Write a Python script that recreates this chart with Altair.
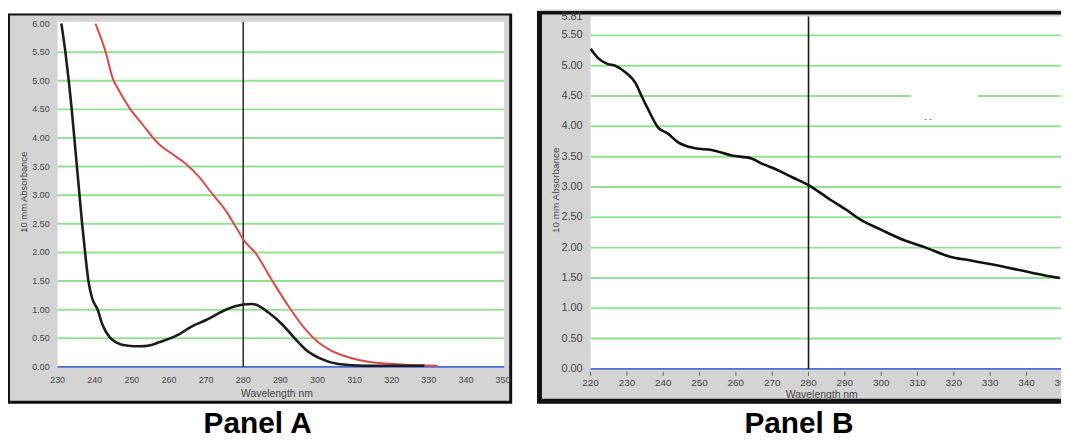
import altair as alt
import pandas as pd

# ---------------- data ----------------
A_BLACK_WL = [231.0, 232.1, 233.0, 233.8, 234.5, 235.2, 235.9, 236.6, 237.4, 238.3, 239.3, 240.8,
              242.0, 244.0, 246.0, 249.0, 252.0, 255.0, 257.3, 262.7, 266.2, 270.0, 275.3, 280.1,
              282.3, 283.3, 286.8, 290.4, 294.0, 296.7, 301.0, 305.6, 312.7, 328.8]
A_BLACK_ABS = [6.00, 5.50, 5.00, 4.50, 4.00, 3.50, 3.00, 2.50, 2.00, 1.50, 1.20, 1.00,
               0.75, 0.52, 0.42, 0.37, 0.36, 0.38, 0.43, 0.57, 0.71, 0.82, 1.00, 1.09,
               1.10, 1.09, 0.95, 0.75, 0.49, 0.31, 0.14, 0.05, 0.02, 0.02]

A_RED_WL = [240.2, 242.9, 244.8, 246.6, 249.3, 252.8, 257.3, 260.9, 264.5, 268.1, 271.6, 275.2,
            278.8, 280.1, 283.3, 287.7, 292.2, 296.7, 300.2, 303.8, 308.3, 314.5, 323.5, 332.4]
A_RED_ABS = [6.00, 5.51, 5.05, 4.82, 4.53, 4.24, 3.89, 3.72, 3.55, 3.32, 3.03, 2.74,
             2.36, 2.22, 1.99, 1.52, 1.06, 0.66, 0.43, 0.28, 0.17, 0.08, 0.04, 0.02]

B_WL = [220.0, 222.0, 224.6, 226.8, 229.6, 232.3, 234.2, 235.6, 238.6, 241.3, 244.0, 248.7,
        253.3, 258.8, 264.3, 267.0, 271.4, 275.5, 280.0, 286.0, 290.5, 294.3, 299.8, 306.0,
        312.3, 318.9, 324.4, 330.7, 338.0, 345.1, 349.2]
B_ABS = [5.28, 5.13, 5.03, 5.00, 4.89, 4.72, 4.48, 4.31, 3.98, 3.88, 3.74, 3.64,
         3.61, 3.52, 3.47, 3.39, 3.28, 3.16, 3.03, 2.79, 2.62, 2.46, 2.30, 2.13,
         2.00, 1.85, 1.79, 1.72, 1.63, 1.54, 1.50]

A_X_TICKS = [230, 240, 250, 260, 270, 280, 290, 300, 310, 320, 330, 340, 350]
A_Y_TICKS = [0.0, 0.5, 1.0, 1.5, 2.0, 2.5, 3.0, 3.5, 4.0, 4.5, 5.0, 5.5, 6.0]
B_X_TICKS = [220, 230, 240, 250, 260, 270, 280, 290, 300, 310, 320, 330, 340, 350]
B_Y_TICKS = [0.0, 0.5, 1.0, 1.5, 2.0, 2.5, 3.0, 3.5, 4.0, 4.5, 5.0, 5.5, 5.81]
GRID_VALUES = [0.5, 1.0, 1.5, 2.0, 2.5, 3.0, 3.5, 4.0, 4.5, 5.0, 5.5]
MARKER_WL = 280
A_X_DOMAIN = [230, 350]
A_Y_DOMAIN = [0, 6]
B_X_DOMAIN = [220, 350]
B_Y_DOMAIN = [0, 5.81]
A_PLOT_TOP = 6.03
A_PLOT_RIGHT = 350.3
B_PLOT_RIGHT = 352
PANEL_LABELS = ["Panel A", "Panel B"]
X_TITLE = "Wavelength nm"
Y_TITLE = "10 mm Absorbance"

# ---------------- styles ----------------
FONT = "Liberation Sans"
GRAY = "#d4d4d4"
GREEN = "#93e293"
BLUE = "#4a6cd4"
LABEL_COLOR = "#444444"

one = pd.DataFrame({"k": [0]})

sxA = alt.Scale(domain=A_X_DOMAIN, range=[50, 498.8], nice=False, zero=False)
syA = alt.Scale(domain=A_Y_DOMAIN, range=[360, 14], nice=False, zero=False)
sxB = alt.Scale(domain=B_X_DOMAIN, range=[587, 1062.8], nice=False, zero=False)
syB = alt.Scale(domain=B_Y_DOMAIN, range=[362, 7], nice=False, zero=False)


def X(sc, datum=None, field=None):
    if field is not None:
        return alt.X(field, type="quantitative", scale=sc, axis=None)
    return alt.X(datum=datum, type="quantitative", scale=sc, axis=None)


def Y(sc, datum=None, field=None):
    if field is not None:
        return alt.Y(field, type="quantitative", scale=sc, axis=None)
    return alt.Y(datum=datum, type="quantitative", scale=sc, axis=None)


def tick_df(values, fmt):
    return pd.DataFrame({"v": values, "lab": [format(v, fmt) for v in values]})


# ---------------- backgrounds (frames) ----------------
pageBg = alt.Chart(one).mark_rect(color="white").encode(
    x=alt.value(-2), x2=alt.value(1065), y=alt.value(-2), y2=alt.value(436))
frameA = alt.Chart(one).mark_rect(color="#111111").encode(
    x=alt.value(0), x2=alt.value(508), y=alt.value(4), y2=alt.value(397))
grayA = alt.Chart(one).mark_rect(color=GRAY).encode(
    x=alt.value(2), x2=alt.value(505), y=alt.value(6), y2=alt.value(394))
lineTopB = alt.Chart(one).mark_rule(color="#bbbbbb", strokeWidth=1).encode(
    x=alt.value(533), x2=alt.value(1075), y=alt.value(0.5))
frameB = alt.Chart(one).mark_rect(color="#111111").encode(
    x=alt.value(533), x2=alt.value(1075), y=alt.value(1.5), y2=alt.value(397))
grayB = alt.Chart(one).mark_rect(color=GRAY).encode(
    x=alt.value(538), x2=alt.value(1075), y=alt.value(5), y2=alt.value(392))

grid_df = pd.DataFrame({"g": GRID_VALUES})

# ---------------- panel A ----------------
dfA_black = pd.DataFrame({"wl": A_BLACK_WL, "abs": A_BLACK_ABS})
dfA_red = pd.DataFrame({"wl": A_RED_WL, "abs": A_RED_ABS})

whiteA = alt.Chart(one).mark_rect(color="white").encode(
    x=X(sxA, A_X_DOMAIN[0]), x2=alt.X2(datum=A_PLOT_RIGHT),
    y=Y(syA, 0), y2=alt.Y2(datum=A_PLOT_TOP))
gridA = alt.Chart(grid_df).mark_rule(color=GREEN, strokeWidth=2).encode(
    y=Y(syA, field="g"), x=X(sxA, A_X_DOMAIN[0]), x2=alt.X2(datum=A_PLOT_RIGHT))
zeroA = alt.Chart(one).mark_rule(color=BLUE, strokeWidth=1.6).encode(
    y=Y(syA, 0), x=X(sxA, A_X_DOMAIN[0]), x2=alt.X2(datum=A_PLOT_RIGHT))
vlineA = alt.Chart(one).mark_rule(color="#2a2a2a", strokeWidth=1.5).encode(
    x=X(sxA, MARKER_WL), y=Y(syA, 0), y2=alt.Y2(datum=A_PLOT_TOP))
redA = alt.Chart(dfA_red).mark_line(color="#e04848", strokeWidth=2, interpolate="monotone").encode(
    x=X(sxA, field="wl"), y=Y(syA, field="abs"), order="wl:Q")
blackA = alt.Chart(dfA_black).mark_line(color="#1c1c1c", strokeWidth=2.6, interpolate="monotone").encode(
    x=X(sxA, field="wl"), y=Y(syA, field="abs"), order="wl:Q")
ylabA = alt.Chart(tick_df(A_Y_TICKS, ".2f")).mark_text(
    font=FONT, fontSize=9, color=LABEL_COLOR, align="right", baseline="middle").encode(
    y=Y(syA, field="v"), x=alt.value(42), text="lab:N")
xlabA = alt.Chart(tick_df(A_X_TICKS, "d")).mark_text(
    font=FONT, fontSize=9, color=LABEL_COLOR, align="center", baseline="middle").encode(
    x=X(sxA, field="v"), y=alt.value(373), text="lab:N")
panelA = alt.layer(whiteA, gridA, zeroA, vlineA, redA, blackA, ylabA, xlabA)

# ---------------- panel B ----------------
dfB = pd.DataFrame({"wl": B_WL, "abs": B_ABS})
whiteB = alt.Chart(one).mark_rect(color="white").encode(
    x=X(sxB, B_X_DOMAIN[0]), x2=alt.X2(datum=B_PLOT_RIGHT),
    y=Y(syB, 0), y2=alt.Y2(datum=B_Y_DOMAIN[1]))
gridB = alt.Chart(grid_df).mark_rule(color=GREEN, strokeWidth=2).encode(
    y=Y(syB, field="g"), x=X(sxB, B_X_DOMAIN[0]), x2=alt.X2(datum=B_PLOT_RIGHT))
zeroB = alt.Chart(one).mark_rule(color=BLUE, strokeWidth=1.6).encode(
    y=Y(syB, 0), x=X(sxB, B_X_DOMAIN[0]), x2=alt.X2(datum=B_PLOT_RIGHT))
vlineB = alt.Chart(one).mark_rule(color="#1a1a1a", strokeWidth=1.6).encode(
    x=X(sxB, MARKER_WL), y=Y(syB, 0), y2=alt.Y2(datum=B_Y_DOMAIN[1]))
lineB = alt.Chart(dfB).mark_line(color="#111111", strokeWidth=2.6, interpolate="monotone").encode(
    x=X(sxB, field="wl"), y=Y(syB, field="abs"), order="wl:Q")
ylabB = alt.Chart(tick_df(B_Y_TICKS, ".2f")).mark_text(
    font=FONT, fontSize=11, color=LABEL_COLOR, align="right", baseline="middle").encode(
    y=Y(syB, field="v"), x=alt.value(579), text="lab:N")
xtickB = alt.Chart(tick_df(B_X_TICKS, "d")).mark_rule(color="#666666", strokeWidth=1).encode(
    x=X(sxB, field="v"), y=alt.value(365), y2=alt.value(369))
xlabB = alt.Chart(tick_df(B_X_TICKS, "d")).mark_text(
    font=FONT, fontSize=10, color=LABEL_COLOR, align="center", baseline="middle").encode(
    x=X(sxB, field="v"), y=alt.value(376), text="lab:N")
panelB = alt.layer(whiteB, gridB, zeroB, vlineB, lineB, ylabB, xtickB, xlabB)

# axis titles
ytitleA = alt.Chart(one).mark_text(text=Y_TITLE, font=FONT, fontSize=9.5, color=LABEL_COLOR,
                                   angle=270, align="center", baseline="middle").encode(
    x=alt.value(16), y=alt.value(184))
xtitleA = alt.Chart(one).mark_text(text=X_TITLE, font=FONT, fontSize=10.5, color=LABEL_COLOR,
                                   align="center", baseline="middle").encode(
    x=alt.value(271), y=alt.value(387))
ytitleB = alt.Chart(one).mark_text(text=Y_TITLE, font=FONT, fontSize=10, color=LABEL_COLOR,
                                   angle=270, align="center", baseline="middle").encode(
    x=alt.value(552), y=alt.value(182))
xtitleB = alt.Chart(one).mark_text(text=X_TITLE, font=FONT, fontSize=10.5, color=LABEL_COLOR,
                                   align="center", baseline="middle").encode(
    x=alt.value(820), y=alt.value(388))

# small erased patch in panel B
patchB = alt.Chart(one).mark_rect(color="white").encode(
    x=alt.value(910), x2=alt.value(977), y=alt.value(85), y2=alt.value(91))
dashB = alt.Chart(one).mark_text(text="-      -", font=FONT, fontSize=8, color="#222222").encode(
    x=alt.value(927), y=alt.value(110))

# ---------------- panel labels ----------------
labelA = alt.Chart(one).mark_text(text=PANEL_LABELS[0], font=FONT, fontSize=30, fontWeight="bold",
                                  align="center", baseline="alphabetic", color="black").encode(
    x=alt.value(251.5), y=alt.value(427))
labelB = alt.Chart(one).mark_text(text=PANEL_LABELS[1], font=FONT, fontSize=30, fontWeight="bold",
                                  align="center", baseline="alphabetic", color="black").encode(
    x=alt.value(797), y=alt.value(427))

chart = alt.layer(
    pageBg, frameA, grayA, lineTopB, frameB, grayB, panelA, panelB, patchB, dashB,
    ytitleA, xtitleA, ytitleB, xtitleB, labelA, labelB
).resolve_scale(x="independent", y="independent").properties(
    width=1061, height=432, padding=0,
    autosize=alt.AutoSizeParams(type="none"),
).configure_view(stroke="transparent", strokeWidth=0).configure(background="white")

chart.save("out.html", embed_options={"renderer": "svg", "actions": False})
